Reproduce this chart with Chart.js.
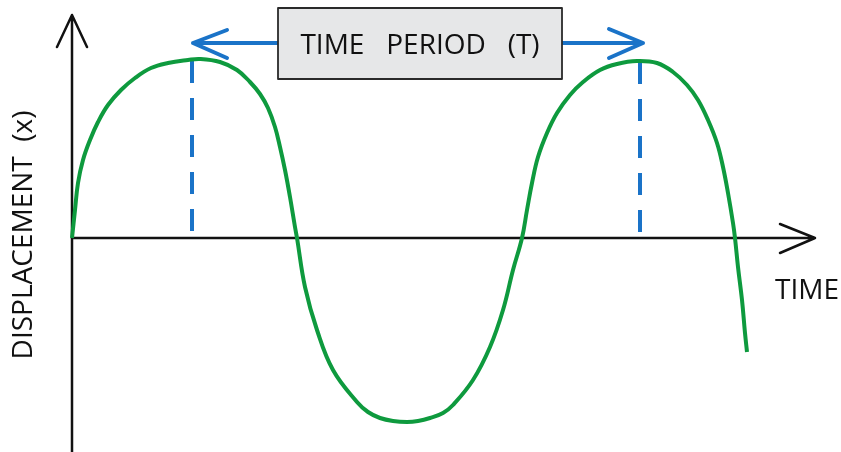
<!DOCTYPE html>
<html>
<head>
<meta charset="utf-8">
<script src="https://cdn.jsdelivr.net/npm/chart.js@4/dist/chart.umd.min.js"></script>
<style>
html,body{margin:0;padding:0;background:#fff;}
#wrap{width:841px;height:452px;}
</style>
</head>
<body>
<div id="wrap"><canvas id="c" width="841" height="452"></canvas></div>
<script>
// ---- data (time, displacement) ----
const waveTime = [0,0.03,0.06,0.11,0.18,0.26,0.36,0.49,0.63,0.79,0.96,1.16,1.28,1.48,1.65,1.78,1.88,1.96,2.03,2.08,2.13,2.18,2.23,2.25,
  2.33,2.45,2.61,2.85,2.96,3.08,3.21,3.35,3.46,3.58,3.71,3.81,4.01,4.18,4.31,4.41,4.50,
  4.55,4.60,4.66,4.75,4.85,4.98,5.11,5.28,5.45,5.65,5.85,6.01,6.15,6.26,6.36,6.45,6.51,6.56,6.61,6.63,6.66,6.70,6.73,6.75];
const waveDisp = [0,0.28,0.55,0.78,0.98,1.16,1.33,1.48,1.60,1.70,1.75,1.78,1.79,1.76,1.68,1.56,1.44,1.30,1.11,0.91,0.68,0.41,0.11,0,
  -0.49,-0.92,-1.32,-1.64,-1.74,-1.80,-1.83,-1.84,-1.83,-1.80,-1.75,-1.67,-1.42,-1.09,-0.72,-0.32,0,
  0.28,0.55,0.81,1.05,1.25,1.43,1.56,1.68,1.74,1.77,1.75,1.66,1.53,1.38,1.18,0.95,0.71,0.45,0.15,0,-0.29,-0.62,-0.95,-1.14];
const peakTimes = [1.20, 5.68];
const peakDisps = [1.77, 1.76];
const periodLabel = "TIME   PERIOD   (T)";
const xAxisLabel = "TIME";
const yAxisLabel = "DISPLACEMENT  (x)";

const wave = waveTime.map((t,i)=>({x:t,y:waveDisp[i]}));
const dash1 = [{x:peakTimes[0],y:peakDisps[0]},{x:peakTimes[0],y:0}];
const dash2 = [{x:peakTimes[1],y:peakDisps[1]},{x:peakTimes[1],y:0}];

const FONT = '"Open Sans", "DejaVu Sans", sans-serif';
const BLUE = '#1a73c8';
const GREEN = '#0e9a3e';

const decor = {
  id:'decor',
  beforeDatasetsDraw(chart){
    const ctx = chart.ctx, xs = chart.scales.x, ys = chart.scales.y;
    const x0 = xs.getPixelForValue(0), y0 = ys.getPixelForValue(0);
    ctx.save();
    ctx.strokeStyle = '#111';
    ctx.lineWidth = 2.5;
    ctx.lineCap = 'round';
    ctx.lineJoin = 'round';
    // y axis
    const yTop = 15;
    ctx.beginPath();
    ctx.moveTo(x0, chart.height); ctx.lineTo(x0, yTop);
    ctx.moveTo(x0-15, yTop+32); ctx.lineTo(x0, yTop); ctx.lineTo(x0+15, yTop+32);
    ctx.stroke();
    // x axis
    const xEnd = 815;
    ctx.beginPath();
    ctx.moveTo(x0, y0); ctx.lineTo(xEnd, y0);
    ctx.moveTo(xEnd-35, y0-14); ctx.lineTo(xEnd, y0); ctx.lineTo(xEnd-35, y0+15);
    ctx.stroke();
    // axis labels
    ctx.fillStyle = '#111';
    ctx.font = '28px ' + FONT;
    ctx.textBaseline = 'alphabetic';
    ctx.textAlign = 'left';
    ctx.fillText(xAxisLabel, 775, 299);
    ctx.save();
    ctx.translate(32, 235);
    ctx.rotate(-Math.PI/2);
    ctx.textAlign = 'center';
    ctx.fillText(yAxisLabel, 0, 0);
    ctx.restore();
    ctx.restore();
  },
  afterDatasetsDraw(chart){
    const ctx = chart.ctx, xs = chart.scales.x;
    const xa = xs.getPixelForValue(peakTimes[0]) + 1;
    const xb = xs.getPixelForValue(peakTimes[1]) + 3;
    const ya = 43;
    ctx.save();
    ctx.strokeStyle = BLUE;
    ctx.lineWidth = 4;
    ctx.lineCap = 'round';
    ctx.lineJoin = 'round';
    ctx.beginPath();
    ctx.moveTo(xa, ya); ctx.lineTo(xb, ya);
    ctx.moveTo(xa+34, ya-13); ctx.lineTo(xa, ya); ctx.lineTo(xa+34, ya+15);
    ctx.moveTo(xb-34, ya-14); ctx.lineTo(xb, ya); ctx.lineTo(xb-34, ya+15);
    ctx.stroke();
    // box
    const bx = 278, by = 8, bw = 284, bh = 71;
    ctx.fillStyle = '#e6e7e8';
    ctx.fillRect(bx, by, bw, bh);
    ctx.strokeStyle = '#2a2a2a';
    ctx.lineWidth = 1.8;
    ctx.strokeRect(bx, by, bw, bh);
    ctx.fillStyle = '#111';
    ctx.font = '28px ' + FONT;
    ctx.textAlign = 'center';
    ctx.textBaseline = 'alphabetic';
    ctx.fillText(periodLabel, bx + bw/2, 54);
    ctx.restore();
  }
};

new Chart(document.getElementById('c'), {
  type:'line',
  data:{
    datasets:[
      {data:dash1, borderColor:BLUE, borderWidth:4, borderDash:[22,15], pointRadius:0, tension:0, order:2},
      {data:dash2, borderColor:BLUE, borderWidth:4, borderDash:[22,15], pointRadius:0, tension:0, order:2},
      {data:wave, borderColor:GREEN, borderWidth:4, pointRadius:0, tension:0.4, order:1}
    ]
  },
  options:{
    responsive:false,
    animation:false,
    devicePixelRatio:1,
    layout:{padding:0},
    plugins:{legend:{display:false}, tooltip:{enabled:false}},
    scales:{
      x:{type:'linear', min:-0.72, max:7.69, display:false},
      y:{type:'linear', min:-2.14, max:2.38, display:false}
    }
  },
  plugins:[decor]
});
</script>
</body>
</html>
